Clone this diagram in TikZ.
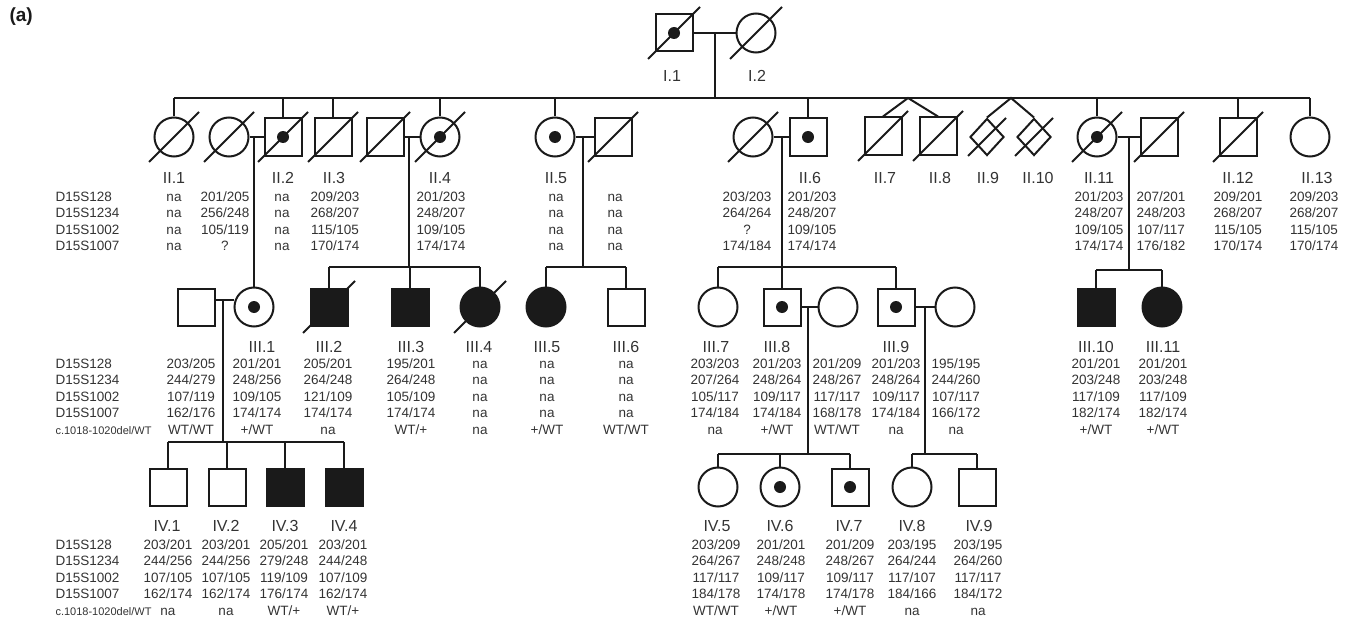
\documentclass[tikz,border=0pt]{standalone}
\usepackage{fontspec}
\setmainfont{Liberation Sans}
\usetikzlibrary{shapes.geometric}
\definecolor{ink}{HTML}{1A1A1A}
\definecolor{txt}{HTML}{333333}
\tikzset{
  line/.style={draw=ink, line width=2pt},
  male/.style={rectangle, draw=ink, line width=2pt, minimum size=37pt, inner sep=0pt},
  female/.style={circle, draw=ink, line width=2pt, minimum size=39pt, inner sep=0pt},
  unk/.style={diamond, draw=ink, line width=2pt, minimum width=34pt, minimum height=37pt, inner sep=0pt},
  aff/.style={fill=ink},
  dot/.style={circle, fill=ink, minimum size=12pt, inner sep=0pt},
  dead/.style={draw=ink, line width=2pt},
  idl/.style={text=txt, font=\fontsize{16}{19}\selectfont, anchor=base},
  dat/.style={text=txt, font=\fontsize{13.5}{16}\selectfont, anchor=base},
  mrk/.style={dat, anchor=base west},
  mrks/.style={text=txt, font=\fontsize{11}{13}\selectfont, anchor=base west}
}
% one genotype column: name, x, first baseline, values
\newcommand{\geno}[4]{\foreach \gt [count=\i] in {#4}
  {\node[dat] (#1-\i) at (#2,{#3+(\i-1)*16.6}) {\gt};}}
% deceased stroke across a symbol
\newcommand{\dec}[2]{\draw[dead] (#1.center) ++(-#2,#2) -- ++({2*#2},{-2*#2});}

\begin{document}
\begin{tikzpicture}[x=1pt,y=-1pt]
  \useasboundingbox (0,0) rectangle (1359,623);
  \node[text=ink, font=\bfseries\fontsize{19}{22}\selectfont, anchor=base west] (panel) at (6,22) {(a)};

  % generation I
  \node[male] (I1) at (674,33) {};
  \node[female] (I2) at (756,33) {};
  \node[dot] (I1d) at (I1) {};
  \dec{I1}{26} \dec{I2}{26}
  \draw[line] (I1) -- (I2);
  \coordinate (mI) at (715,33);
  \coordinate (sII) at (715,98);
  \draw[line] (mI) -- (sII);
  \node[idl] (I1l) at (672,82) {I.1};
  \node[idl] (I2l) at (757,82) {I.2};

  % generation II
  \node[female] (II1) at (174,137) {};
  \node[female] (s22) at (229,137) {};
  \node[male] (II2) at (283,137) {};
  \node[male] (II3) at (333,137) {};
  \node[male] (s24) at (385,137) {};
  \node[female] (II4) at (440,137) {};
  \node[female] (II5) at (555,137) {};
  \node[male] (s25) at (613,137) {};
  \node[female] (s26) at (753,137) {};
  \node[male] (II6) at (808,137) {};
  \node[male] (II7) at (883,136) {};
  \node[male] (II8) at (938,136) {};
  \node[unk] (II9) at (987,137) {};
  \node[unk] (II10) at (1034,137) {};
  \node[female] (II11) at (1097,137) {};
  \node[male] (s211) at (1159,137) {};
  \node[male] (II12) at (1238,137) {};
  \node[female] (II13) at (1310,137) {};
  \foreach \n in {II2,II4,II5,II6,II11}
    {\node[dot] (\n d) at (\n) {};}
  \foreach \n in {II1,s22,II2,II3,s24,II4,s25,s26,II7,II8,II11,s211,II12}
    {\dec{\n}{25}}
  \dec{II9}{19} \dec{II10}{19}

  \draw[line] (II1 |- sII) -- (II13 |- sII);
  \foreach \n in {II1,II2,II3,II4,II5,II6,II11,II12,II13}
    {\draw[line] (\n |- sII) -- (\n.north);}
  \coordinate (t78) at (908,98);
  \coordinate (t910) at (1011,98);
  \draw[line] (II7.north) -- (t78) -- (II8.north);
  \draw[line] (II9.north) -- (t910) -- (II10.north);

  \draw[line] (s22) -- (II2);
  \draw[line] (s24) -- (II4);
  \draw[line] (II5) -- (s25);
  \draw[line] (s26) -- (II6);
  \draw[line] (II11) -- (s211);
  \coordinate (m22) at (254,137);
  \coordinate (m24) at (409,137);
  \coordinate (m25) at (583,137);
  \coordinate (m26) at (782,137);
  \coordinate (m211) at (1129,137);

  \node[idl] (II1l) at (174,183) {II.1};
  \node[idl] (II2l) at (283,183) {II.2};
  \node[idl] (II3l) at (334,183) {II.3};
  \node[idl] (II4l) at (440,183) {II.4};
  \node[idl] (II5l) at (556,183) {II.5};
  \node[idl] (II6l) at (810,183) {II.6};
  \node[idl] (II7l) at (885,183) {II.7};
  \node[idl] (II8l) at (940,183) {II.8};
  \node[idl] (II9l) at (988,183) {II.9};
  \node[idl] (II10l) at (1038,183) {II.10};
  \node[idl] (II11l) at (1099,183) {II.11};
  \node[idl] (II12l) at (1238,183) {II.12};
  \node[idl] (II13l) at (1317,183) {II.13};

  \foreach \m [count=\i] in {D15S128,D15S1234,D15S1002,D15S1007}
    {\node[mrk] (rII-\i) at (52,{201+(\i-1)*16.6}) {\m};}
  \geno{g1}{174}{201}{na,na,na,na}
  \geno{g2}{225}{201}{201/205,256/248,105/119,?}
  \geno{g3}{282}{201}{na,na,na,na}
  \geno{g4}{335}{201}{209/203,268/207,115/105,170/174}
  \geno{g5}{441}{201}{201/203,248/207,109/105,174/174}
  \geno{g6}{556}{201}{na,na,na,na}
  \geno{g7}{615}{201}{na,na,na,na}
  \geno{g8}{747}{201}{203/203,264/264,?,174/184}
  \geno{g9}{812}{201}{201/203,248/207,109/105,174/174}
  \geno{g10}{1099}{201}{201/203,248/207,109/105,174/174}
  \geno{g11}{1161}{201}{207/201,248/203,107/117,176/182}
  \geno{g12}{1238}{201}{209/201,268/207,115/105,170/174}
  \geno{g13}{1314}{201}{209/203,268/207,115/105,170/174}

  % generation III
  \node[male] (r31) at (196,307) {};
  \node[female] (III1) at (254,307) {};
  \node[male, aff] (III2) at (329,307) {};
  \node[male, aff] (III3) at (410,307) {};
  \node[female, aff] (III4) at (480,307) {};
  \node[female, aff] (III5) at (546,307) {};
  \node[male] (III6) at (626,307) {};
  \node[female] (III7) at (718,307) {};
  \node[male] (III8) at (782,307) {};
  \node[female] (r38) at (838,307) {};
  \node[male] (III9) at (896,307) {};
  \node[female] (r39) at (955,307) {};
  \node[male, aff] (III10) at (1096,307) {};
  \node[female, aff] (III11) at (1162,307) {};
  \foreach \n in {III1,III8,III9}
    {\node[dot] (\n d) at (\n) {};}
  \dec{III2}{26} \dec{III4}{26}

  \draw[line] (m22) -- (III1.north);
  \coordinate (s34) at (409,267);
  \draw[line] (m24) -- (s34);
  \draw[line] (III2 |- s34) -- (III4 |- s34);
  \foreach \n in {III2,III3,III4}
    {\draw[line] (\n |- s34) -- (\n.north);}
  \coordinate (s35) at (583,267);
  \draw[line] (m25) -- (s35);
  \draw[line] (III5 |- s35) -- (III6 |- s35);
  \foreach \n in {III5,III6}
    {\draw[line] (\n |- s35) -- (\n.north);}
  \coordinate (s36) at (782,267);
  \draw[line] (m26) -- (s36);
  \draw[line] (III7 |- s36) -- (III9 |- s36);
  \foreach \n in {III7,III8,III9}
    {\draw[line] (\n |- s36) -- (\n.north);}
  \coordinate (s311) at (1129,270);
  \draw[line] (m211) -- (s311);
  \draw[line] (III10 |- s311) -- (III11 |- s311);
  \foreach \n in {III10,III11}
    {\draw[line] (\n |- s311) -- (\n.north);}

  \coordinate (m31) at (223,300);
  \draw[line] (r31.east |- m31) -- (III1.west |- m31);
  \draw[line] (III8) -- (r38);
  \draw[line] (III9) -- (r39);
  \coordinate (m38) at (808,307);
  \coordinate (m39) at (925,307);

  \node[idl] (III1l) at (262,352) {III.1};
  \node[idl] (III2l) at (329,352) {III.2};
  \node[idl] (III3l) at (411,352) {III.3};
  \node[idl] (III4l) at (479,352) {III.4};
  \node[idl] (III5l) at (547,352) {III.5};
  \node[idl] (III6l) at (626,352) {III.6};
  \node[idl] (III7l) at (716,352) {III.7};
  \node[idl] (III8l) at (777,352) {III.8};
  \node[idl] (III9l) at (896,352) {III.9};
  \node[idl] (III10l) at (1096,352) {III.10};
  \node[idl] (III11l) at (1163,352) {III.11};

  \foreach \m [count=\i] in {D15S128,D15S1234,D15S1002,D15S1007}
    {\node[mrk] (rIII-\i) at (52,{368+(\i-1)*16.6}) {\m};}
  \node[mrks] (rIII-5) at (52,434.4) {c.1018-1020del/WT};
  \geno{h1}{191}{368}{203/205,244/279,107/119,162/176,WT/WT}
  \geno{h2}{257}{368}{201/201,248/256,109/105,174/174,+/WT}
  \geno{h3}{328}{368}{205/201,264/248,121/109,174/174,na}
  \geno{h4}{411}{368}{195/201,264/248,105/109,174/174,WT/+}
  \geno{h5}{480}{368}{na,na,na,na,na}
  \geno{h6}{547}{368}{na,na,na,na,+/WT}
  \geno{h7}{626}{368}{na,na,na,na,WT/WT}
  \geno{h8}{715}{368}{203/203,207/264,105/117,174/184,na}
  \geno{h9}{777}{368}{201/203,248/264,109/117,174/184,+/WT}
  \geno{h10}{837}{368}{201/209,248/267,117/117,168/178,WT/WT}
  \geno{h11}{896}{368}{201/203,248/264,109/117,174/184,na}
  \geno{h12}{956}{368}{195/195,244/260,107/117,166/172,na}
  \geno{h13}{1096}{368}{201/201,203/248,117/109,182/174,+/WT}
  \geno{h14}{1163}{368}{201/201,203/248,117/109,182/174,+/WT}

  % generation IV
  \node[male] (IV1) at (168,487) {};
  \node[male] (IV2) at (227,487) {};
  \node[male, aff] (IV3) at (285,487) {};
  \node[male, aff] (IV4) at (344,487) {};
  \node[female] (IV5) at (718,487) {};
  \node[female] (IV6) at (780,487) {};
  \node[male] (IV7) at (850,487) {};
  \node[female] (IV8) at (912,487) {};
  \node[male] (IV9) at (977,487) {};
  \foreach \n in {IV6,IV7}
    {\node[dot] (\n d) at (\n) {};}

  \coordinate (s41) at (223,442);
  \draw[line] (m31) -- (s41);
  \draw[line] (IV1 |- s41) -- (IV4 |- s41);
  \foreach \n in {IV1,IV2,IV3,IV4}
    {\draw[line] (\n |- s41) -- (\n.north);}
  \coordinate (s48) at (808,454);
  \draw[line] (m38) -- (s48);
  \draw[line] (IV5 |- s48) -- (IV7 |- s48);
  \foreach \n in {IV5,IV6,IV7}
    {\draw[line] (\n |- s48) -- (\n.north);}
  \coordinate (s49) at (925,454);
  \draw[line] (m39) -- (s49);
  \draw[line] (IV8 |- s49) -- (IV9 |- s49);
  \foreach \n in {IV8,IV9}
    {\draw[line] (\n |- s49) -- (\n.north);}

  \node[idl] (IV1l) at (167,531) {IV.1};
  \node[idl] (IV2l) at (226,531) {IV.2};
  \node[idl] (IV3l) at (285,531) {IV.3};
  \node[idl] (IV4l) at (344,531) {IV.4};
  \node[idl] (IV5l) at (717,531) {IV.5};
  \node[idl] (IV6l) at (780,531) {IV.6};
  \node[idl] (IV7l) at (849,531) {IV.7};
  \node[idl] (IV8l) at (912,531) {IV.8};
  \node[idl] (IV9l) at (979,531) {IV.9};

  \foreach \m [count=\i] in {D15S128,D15S1234,D15S1002,D15S1007}
    {\node[mrk] (rIV-\i) at (52,{549+(\i-1)*16.6}) {\m};}
  \node[mrks] (rIV-5) at (52,615.4) {c.1018-1020del/WT};
  \geno{k1}{168}{549}{203/201,244/256,107/105,162/174,na}
  \geno{k2}{226}{549}{203/201,244/256,107/105,162/174,na}
  \geno{k3}{284}{549}{205/201,279/248,119/109,176/174,WT/+}
  \geno{k4}{343}{549}{203/201,244/248,107/109,162/174,WT/+}
  \geno{k5}{716}{549}{203/209,264/267,117/117,184/178,WT/WT}
  \geno{k6}{781}{549}{201/201,248/248,109/117,174/178,+/WT}
  \geno{k7}{850}{549}{201/209,248/267,109/117,174/178,+/WT}
  \geno{k8}{912}{549}{203/195,264/244,117/107,184/166,na}
  \geno{k9}{978}{549}{203/195,264/260,117/117,184/172,na}
\end{tikzpicture}
\end{document}
